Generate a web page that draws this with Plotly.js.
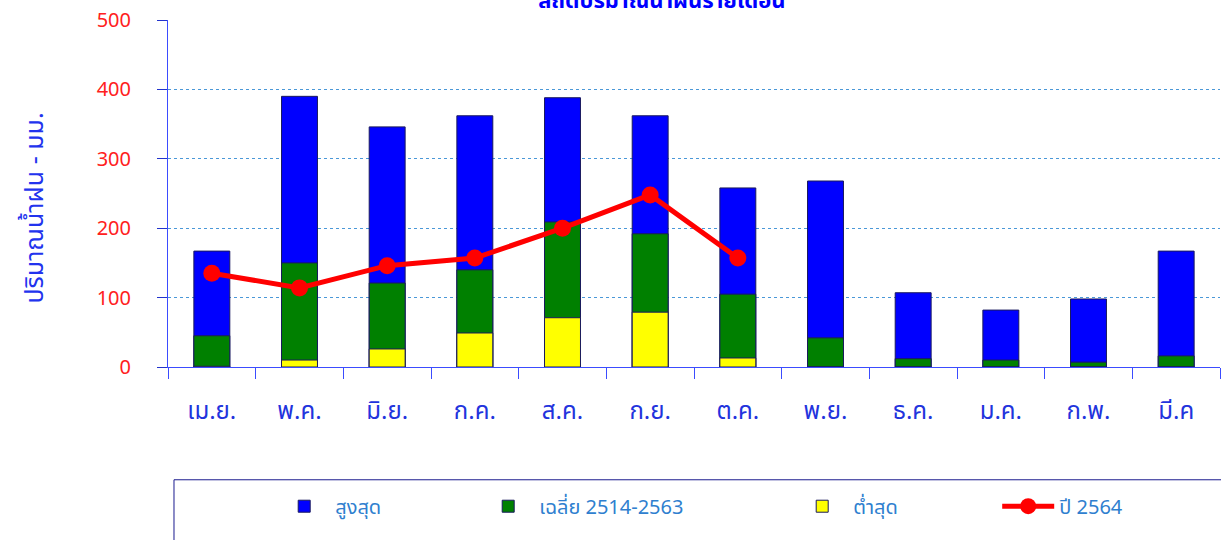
<!DOCTYPE html>
<html>
<head>
<meta charset="utf-8">
<script src="https://cdn.plot.ly/plotly-3.0.1.min.js"></script>
<style>html,body{margin:0;padding:0;background:#fff;}#chart{width:1221px;height:540px;}</style>
</head>
<body>
<div id="chart"></div>
<script>
const months = ['เม.ย.','พ.ค.','มิ.ย.','ก.ค.','ส.ค.','ก.ย.','ต.ค.','พ.ย.','ธ.ค.','ม.ค.','ก.พ.','มี.ค'];
const maxRain = [167, 390, 346, 362, 388, 362, 258, 268, 107, 82, 98, 167];
const avgRain = [45, 150, 121, 140, 209, 192, 105, 42, 12, 10, 7, 16];
const minRain = [1, 10, 26, 49, 71, 79, 13, 0, 0, 0, 0, 0];
const rain2564 = [135, 114, 146, 157, 200, 248, 157, null, null, null, null, null];

const FONT = 'Tahoma, "Noto Sans Thai", "Noto Sans", sans-serif';
const barLine = {color: '#1a1a5e', width: 1};

const traces = [
  {type: 'bar', x: months, y: maxRain, name: 'สูงสุด', marker: {color: '#0000ff', line: barLine}, width: 0.41, legendwidth: 137},
  {type: 'bar', x: months, y: avgRain, name: 'เฉลี่ย 2514-2563', marker: {color: '#008000', line: barLine}, width: 0.41, legendwidth: 247},
  {type: 'bar', x: months, y: minRain, name: 'ต่ำสุด', marker: {color: '#ffff00', line: barLine}, width: 0.41, legendwidth: 139},
  {type: 'scatter', mode: 'lines+markers', x: months, y: rain2564, name: 'ปี 2564', line: {color: '#ff0000', width: 5}, marker: {color: '#ff0000', size: 17}, connectgaps: false}
];

const layout = {
  width: 1221, height: 540,
  margin: {l: 168, r: 1, t: 20, b: 173},
  paper_bgcolor: '#ffffff', plot_bgcolor: '#ffffff',
  barmode: 'overlay',
  showlegend: true,
  hovermode: false,
  title: {text: '<b>สถิติปริมาณน้ำฝนรายเดือน</b>', x: 0.542, xanchor: 'center', y: 1.0, yref: 'container', yanchor: 'middle', font: {family: FONT, size: 22, color: '#0000ff'}},
  xaxis: {
    type: 'category', range: [-0.5, 11.5], tickson: 'boundaries', ticks: 'outside', ticklen: 11, tickcolor: '#3b4cff', tickwidth: 1,
    showline: true, linecolor: '#3b4cff', linewidth: 1, showgrid: false,
    tickfont: {family: FONT, size: 24, color: '#2233dd'}, ticklabelstandoff: 22
  },
  yaxis: {
    range: [0, 500], dtick: 100, ticks: 'outside', ticklen: 10, tickcolor: '#2233cc', tickwidth: 1,
    showline: true, linecolor: '#3b4cff', linewidth: 1,
    showgrid: true, gridcolor: '#4a98d8', griddash: 'dot', gridwidth: 1, zeroline: false,
    tickfont: {family: FONT, size: 20, color: '#ff2020'}, ticklabelstandoff: 22
  },
  annotations: [
    {text: 'ปริมาณน้ำฝน - มม.', xref: 'paper', yref: 'paper', x: -0.126, y: 0.458, xanchor: 'center', yanchor: 'middle', textangle: -90, showarrow: false, font: {family: FONT, size: 25, color: '#2233ee'}}
  ],
  legend: {
    orientation: 'h', x: 0.1, xanchor: 'left', y: -0.345, yanchor: 'top',
    font: {family: FONT, size: 20, color: '#2f7fcf'}, bgcolor: 'rgba(0,0,0,0)', borderwidth: 0,
    traceorder: 'normal', entrywidthmode: 'pixels', itemwidth: 52
  },
  shapes: [
    {type: 'rect', xref: 'paper', yref: 'paper', x0: 0.0057, x1: 1.02, y0: -0.325, y1: -0.53, line: {color: '#1a1a8e', width: 1}, fillcolor: 'rgba(0,0,0,0)', layer: 'below'}
  ]
};

Plotly.newPlot('chart', traces, layout, {displayModeBar: false, staticPlot: true});
</script>
</body>
</html>
